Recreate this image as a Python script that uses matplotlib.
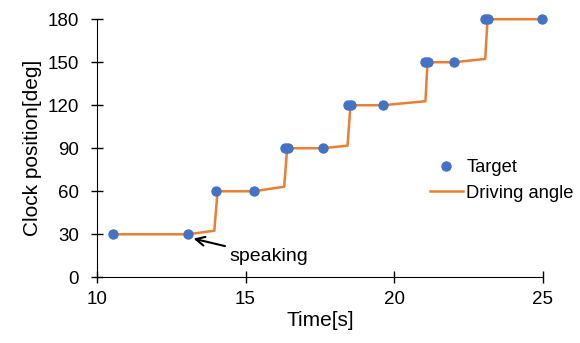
import matplotlib.pyplot as plt
import numpy as np

plt.rcParams['font.family'] = ['Liberation Sans', 'DejaVu Sans']

# target positions (s, deg)
target_t = [10.53, 13.05, 14.0, 15.27, 16.32, 16.44, 17.59, 18.43, 18.55,
            19.62, 21.04, 21.15, 22.02, 23.06, 23.17, 24.98]
target_deg = [30, 30, 60, 60, 90, 90, 90, 120, 120,
              120, 150, 150, 150, 180, 180, 180]

# driving angle (s, deg)
drive_t = [10.53, 13.05, 13.95, 14.06, 15.27, 16.3, 16.4, 17.59, 18.43, 18.53,
           19.62, 21.05, 21.12, 22.02, 23.06, 23.14, 24.98]
drive_deg = [30, 30, 32.5, 60, 60, 63.2, 90, 90, 91.8, 120,
             120, 122.8, 150, 150, 152.3, 180, 180]

fig = plt.figure(figsize=(5.8, 3.43), dpi=100)
ax = fig.add_axes([0.167, 0.1915, 0.769, 0.7525])

ax.plot(drive_t, drive_deg, color='#ED7D31', lw=1.8, label='Driving angle',
        zorder=2, clip_on=False)
ax.plot(target_t, target_deg, 'o', color='#4472C4', ms=7.5, mew=0, label='Target',
        zorder=3, clip_on=False)

ax.annotate('speaking', xy=(13.25, 27.0), xytext=(14.45, 14.5),
            fontsize=14, va='center', ha='left',
            arrowprops=dict(arrowstyle='->', color='black', lw=1.5,
                            shrinkA=1, shrinkB=0, mutation_scale=16))

ax.set_xlim(10, 25)
ax.set_ylim(0, 180)
ax.set_xticks(np.arange(10, 26, 5))
ax.set_yticks(np.arange(0, 181, 30))
ax.tick_params(direction='inout', length=8, width=1, labelsize=13.5)
ax.tick_params(axis='y', pad=9)
ax.tick_params(axis='x', pad=6)
ax.spines['top'].set_visible(False)
ax.spines['right'].set_visible(False)
ax.set_xlabel('Time[s]', fontsize=15, labelpad=2)
ax.set_ylabel('Clock position[deg]', fontsize=15, labelpad=4)

h, l = ax.get_legend_handles_labels()
fig.legend(h[::-1], l[::-1], loc='center left', bbox_to_anchor=(0.741, 0.474),
           frameon=False, fontsize=13.2, handlelength=1.8, handletextpad=0.2,
           borderpad=0, borderaxespad=0, labelspacing=0.45)

fig.savefig('out.png', dpi=100)
